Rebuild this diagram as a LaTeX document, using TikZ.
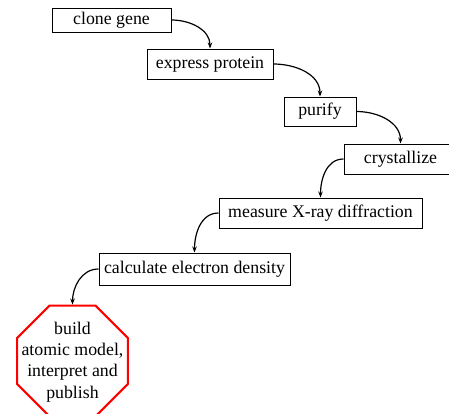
\documentclass[tikz,border=0pt]{standalone}
\usepackage{fontspec}
\setmainfont{Liberation Serif}
\newfontfamily\stepfont{Liberation Serif}
\usetikzlibrary{shapes.geometric,arrows.meta}
\begin{document}
\begin{tikzpicture}[x=1pt,y=1pt,
  labelfont/.style={font=\stepfont\fontsize{17.8}{21.4}\selectfont, text=black},
  stepbox/.style={labelfont, draw=black, line width=1pt, rectangle, inner sep=0pt, minimum height=30pt},
  finalstep/.style={draw=red, line width=2pt, regular polygon, regular polygon sides=8, inner sep=0pt, minimum size=120pt},
  flow/.style={line width=1.2pt, black, -{Stealth[length=6pt,width=4.5pt]}}]
\useasboundingbox (0,0) rectangle (449,-413);
\clip (0,0) rectangle (449,-413);

% process steps
\node[stepbox, minimum width=119pt, minimum height=24pt] (clone)   at (111.5,-20)  {clone gene};
\node[stepbox, minimum width=126pt] (express) at (210,-64)    {express protein};
\node[stepbox, minimum width=72pt, minimum height=29pt] (purify)  at (320,-111.5) {purify};
\node[stepbox, minimum width=113pt] (crystal) at (400.5,-159) {crystallize};
\node[stepbox, minimum width=203pt] (measure) at (320.5,-213) {measure X-ray diffraction};
\node[stepbox, minimum width=191pt, minimum height=32pt] (calc)    at (194.5,-269) {calculate electron density};

% final step
\node[finalstep] (final) at (72.5,-361) {};
\node[labelfont, align=center] (finaltext) at (72.5,-362) {build\\atomic model,\\interpret and\\publish};

% connectors
\draw[flow] (clone.east)   to[out=0,in=90]   (express.north);
\draw[flow] (express.east) to[out=0,in=90]   (purify.north);
\draw[flow] (purify.east)  to[out=0,in=90]   (crystal.north);
\draw[flow] (crystal.west) to[out=180,in=90] (measure.north);
\draw[flow] (measure.west) to[out=180,in=90] (calc.north);
\draw[flow] (calc.west)    to[out=180,in=90] (final.north);
\end{tikzpicture}
\end{document}
